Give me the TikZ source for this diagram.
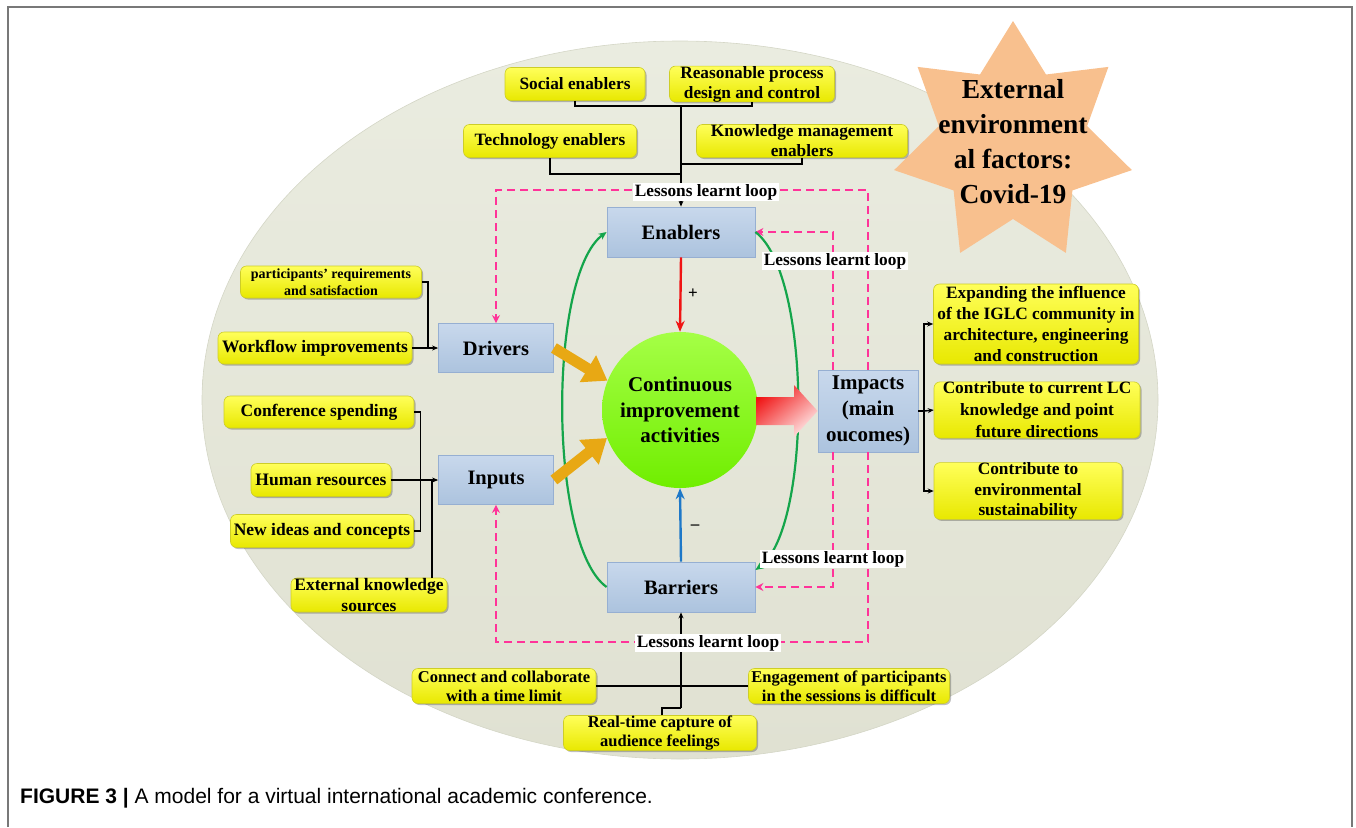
\documentclass[tikz,border=0pt]{standalone}
\usepackage{fontspec}
\setmainfont{Liberation Serif}
\newfontfamily\capfont{Liberation Sans}
\usetikzlibrary{arrows.meta,shadows,shapes.geometric,calc}
\definecolor{pinkd}{RGB}{255,51,153}
\definecolor{elltop}{RGB}{234,236,224}
\definecolor{ellbot}{RGB}{224,225,210}
\definecolor{elledge}{RGB}{212,214,198}
\definecolor{ytop}{RGB}{255,255,90}
\definecolor{ybot}{RGB}{232,232,0}
\definecolor{yedge}{RGB}{205,205,40}
\definecolor{btop}{RGB}{200,216,236}
\definecolor{bbot}{RGB}{172,195,222}
\definecolor{bedge}{RGB}{150,175,210}
\definecolor{gtop}{RGB}{165,255,70}
\definecolor{gbot}{RGB}{112,238,0}
\definecolor{orarr}{RGB}{232,168,20}
\definecolor{greenc}{RGB}{20,165,75}
\definecolor{bluea}{RGB}{30,120,200}
\definecolor{reda}{RGB}{240,20,20}
\definecolor{starc}{RGB}{248,192,142}
\definecolor{framec}{RGB}{120,120,120}
\tikzset{
  ybox/.style={rounded corners=6pt, draw=yedge, line width=0.6pt, top color=ytop, bottom color=ybot,
    align=center, inner sep=0pt, font=\fontsize{17.3}{20}\selectfont\bfseries,
    drop shadow={shadow xshift=1.5pt, shadow yshift=-1.5pt, opacity=0.25, fill=black}},
  bbox/.style={draw=bedge, line width=0.8pt, top color=btop, bottom color=bbot, align=center,
    inner sep=0pt, font=\fontsize{20.5}{25.5}\selectfont\bfseries},
  conn/.style={line width=1.5pt, black},
  carr/.style={conn, -{Stealth[length=6pt,width=5pt]}},
  pdash/.style={pinkd, line width=2.4pt, dash pattern=on 8pt off 5pt},
  parr/.style={pdash, -{Stealth[length=8pt,width=8pt]}},
  loopl/.style={fill=white, inner sep=1.5pt, font=\fontsize{17.3}{20}\selectfont\bfseries},
  oarr/.style={orarr, line width=11pt, -{Triangle[length=23pt,width=30pt]}},
  gcurve/.style={greenc, line width=2.2pt, -{Stealth[length=8pt,width=7pt]}},
}
\begin{document}
\begin{tikzpicture}[x=1pt,y=-1pt]
\useasboundingbox (0,0) rectangle (1356,827);
% frame
\draw[framec, line width=1.5pt] (8,827) -- (8,7) -- (1352,7) -- (1352,827);
% ellipse background
\node[ellipse, minimum width=956pt, minimum height=718pt, inner sep=0pt, draw=elledge, line width=0.6pt,
  top color=elltop, bottom color=ellbot] (ell) at (680,400) {};
% star
\fill[starc] (1013,21) -- (1046,74.5) -- (1108.4,66.9) -- (1087.1,126.1) -- (1131.9,170.1)
  -- (1072.4,190.4) -- (1065.9,252.9) -- (1013,219) -- (960.1,252.9) -- (953.6,190.4)
  -- (894.1,170.1) -- (938.9,126.1) -- (917.6,66.9) -- (980,74.5) -- cycle;
\node[align=center, font=\fontsize{27.5}{35}\selectfont\bfseries] (starlbl) at (1013,142)
  {External\\environment\\al factors:\\Covid-19};

% central nodes
\node[bbox, minimum width=148pt, minimum height=50pt] (enab) at (681,232) {Enablers};
\node[bbox, minimum width=148pt, minimum height=50pt] (barr) at (681,587) {Barriers};
\node[bbox, minimum width=115pt, minimum height=49pt] (driv) at (496,348) {Drivers};
\node[bbox, minimum width=115pt, minimum height=49pt] (inpt) at (496,480) {Inputs};
\node[bbox, minimum width=100pt, minimum height=82pt, font=\fontsize{21}{26}\selectfont\bfseries] (imp) at (868,411) {Impacts\\(main\\oucomes)};
\node[circle, minimum size=156pt, top color=gtop, bottom color=gbot, inner sep=0pt, align=center,
  font=\fontsize{21}{25.5}\selectfont\bfseries] (cia) at (680,410) {Continuous\\improvement\\activities};

% yellow boxes: top
\node[ybox, minimum width=140pt, minimum height=33pt] (soc) at (575,84) {Social enablers};
\node[ybox, minimum width=165pt, minimum height=33pt] (rea) at (752,84) {Reasonable process\\design and control};
\node[ybox, minimum width=173pt, minimum height=33pt] (tech) at (550,141) {Technology enablers};
\node[ybox, minimum width=211pt, minimum height=33pt] (know) at (802,141) {Knowledge management\\enablers};
% left
\node[ybox, minimum width=181pt, minimum height=32pt, font=\fontsize{14}{16.5}\selectfont\bfseries] (part) at (331,282) {participants’ requirements\\and satisfaction};
\node[ybox, minimum width=194pt, minimum height=32pt, font=\fontsize{17.5}{20}\selectfont\bfseries] (work) at (315,348) {Workflow improvements};
\node[ybox, minimum width=190pt, minimum height=32pt, font=\fontsize{17.5}{20}\selectfont\bfseries] (conf) at (319,412) {Conference spending};
\node[ybox, minimum width=140pt, minimum height=33pt, font=\fontsize{17.5}{20}\selectfont\bfseries] (hum) at (321,480) {Human resources};
\node[ybox, minimum width=183pt, minimum height=33pt, font=\fontsize{17.5}{20}\selectfont\bfseries] (newi) at (322,531) {New ideas and concepts};
\node[ybox, minimum width=156pt, minimum height=34pt, font=\fontsize{17.5}{21}\selectfont\bfseries] (ext) at (369,595) {External knowledge\\sources};
% right
\node[ybox, minimum width=205pt, minimum height=80pt, font=\fontsize{17.3}{21}\selectfont\bfseries] (exp) at (1036,324) {Expanding the influence\\of the IGLC community in\\architecture, engineering\\and construction};
\node[ybox, minimum width=206pt, minimum height=55pt, font=\fontsize{17.3}{22}\selectfont\bfseries] (cont) at (1037,410) {Contribute to current LC\\knowledge and point\\future directions};
\node[ybox, minimum width=188pt, minimum height=56pt, font=\fontsize{17.3}{20.5}\selectfont\bfseries] (env) at (1028,491) {Contribute to\\environmental\\sustainability};
% bottom
\node[ybox, minimum width=184pt, minimum height=35pt, font=\fontsize{16.5}{19}\selectfont\bfseries] (cwt) at (504,686) {Connect and collaborate\\with a time limit};
\node[ybox, minimum width=201pt, minimum height=35pt, font=\fontsize{16.5}{19}\selectfont\bfseries] (eng) at (849,686) {Engagement of participants\\in the sessions is difficult};
\node[ybox, minimum width=193pt, minimum height=35pt, font=\fontsize{16.5}{19}\selectfont\bfseries] (real) at (660,733) {Real-time capture of\\audience feelings};

% black connectors top
\coordinate (t1) at (681,106);
\coordinate (t2) at (681,174);
\coordinate (t3) at (681,164);
\draw[conn] (soc.south) |- (t1) -| (rea.south);
\draw[conn] (tech.south) |- (t2);
\draw[conn] (know.south) |- (t3);
\draw[carr] (t1) -- (enab.north);
% left
\coordinate (d1) at (428,348);
\draw[conn] (part.east) -| (d1);
\draw[carr] (work.east) -- (driv.west);
\draw[conn] (conf.east) -- ++(6,0) |- (newi.east);
\coordinate (i2) at (432,480);
\draw[conn] ([xshift=63pt]ext.north) -- (i2);
\draw[carr] (hum.east) -- (inpt.west);
% right
\coordinate (r1) at (924,411);
\draw[conn] (imp.east) -- (r1);
\draw[carr] (r1) |- (exp.west);
\draw[carr] (r1) -- (cont.west);
\draw[carr] (r1) |- (env.west);
% bottom
\coordinate (b1) at (681,708);
\draw[conn] (cwt.east) -- (eng.west);
\draw[carr] (b1) -- (barr.south);
\draw[conn] ([xshift=2pt]real.north) |- (b1);

% pink loops
\coordinate (lt) at (496,190);
\coordinate (lb) at (496,642);
\draw[parr] (imp.north) |- (lt) -- (driv.north);
\draw[parr] (imp.south) |- (lb) -- (inpt.south);
\draw[parr] ([xshift=-35pt]imp.north) |- (enab.east);
\draw[parr] ([xshift=-35pt]imp.south) |- (barr.east);

% green curves
\draw[gcurve] (barr.west) .. controls (548,545) and (548,275) .. (enab.west);
\draw[gcurve] (enab.east) .. controls (812,275) and (812,530) .. ([yshift=17pt]barr.east);

% plus / minus
\draw[reda, line width=2.4pt, -{Stealth[length=11pt,width=9pt]}] (enab.south) -- (cia.north);
\draw[bluea, line width=2.4pt, -{Stealth[length=11pt,width=9pt]}] (barr.north) -- (cia.south);
\node[font=\fontsize{17}{17}\selectfont\bfseries] (plus) at (693,294) {+};
\node[font=\fontsize{17}{17}\selectfont\bfseries] (minus) at (695,527) {–};

% orange arrows
\draw[oarr] (driv.east) -- (cia.158);
\draw[oarr] (inpt.east) -- (cia.201);

% big red arrow
\shade[top color=reda, bottom color={rgb,255:red,255;green,230;blue,230}, shading angle=40]
  (756,397) -- (794,397) -- (794,385) -- (imp.west) -- (794,437) -- (794,425) -- (756,425) -- cycle;

% loop labels
\node[loopl] (ll1) at (706,192) {Lessons learnt loop};
\node[loopl] (ll2) at (835,261) {Lessons learnt loop};
\node[loopl] (ll3) at (833,559) {Lessons learnt loop};
\node[loopl] (ll4) at (708,643) {Lessons learnt loop};

% caption
\node[anchor=base west, inner sep=0pt, font=\capfont\fontsize{21}{24}\selectfont] (cap) at (20,803)
  {\textbf{FIGURE 3 |} A model for a virtual international academic conference.};
\end{tikzpicture}
\end{document}
